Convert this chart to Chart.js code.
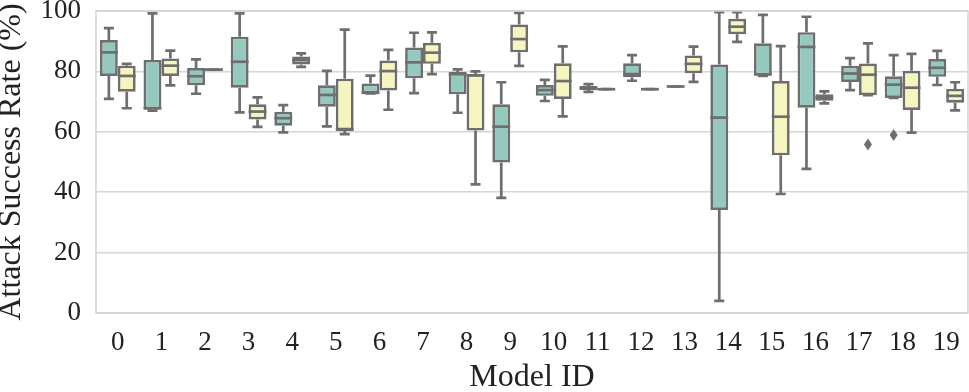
<!DOCTYPE html>
<html>
<head>
<meta charset="utf-8">
<script src="https://cdn.jsdelivr.net/npm/chart.js@4.4.0/dist/chart.umd.min.js"></script>
<style>
  html, body { margin: 0; padding: 0; background: #fff; }
  #wrap { width: 969px; height: 392px; }
</style>
</head>
<body>
<div id="wrap"><canvas id="boxChart"></canvas></div>
<script>
// model ids on the x axis
const modelIds = ['0','1','2','3','4','5','6','7','8','9','10','11','12','13','14','15','16','17','18','19'];

// teal boxes (first group)
const tealMin = [70.9, 67.0, 72.6, 66.4, 59.8, 61.8, 72.7, 72.8, 66.3, 38.1, 70.2, 73.2, 76.9, 75.0, 4.0, 78.5, 47.7, 73.8, 71.2, 75.5];
const tealQ1  = [78.5, 67.4, 75.4, 74.6, 62.0, 68.3, 72.7, 77.7, 72.4, 49.8, 71.9, 73.8, 78.1, 75.0, 34.1, 78.7, 68.0, 76.5, 71.2, 78.2];
const tealMed = [86.3, 67.8, 78.4, 83.2, 64.5, 72.2, 72.9, 83.0, 79.1, 61.7, 73.8, 74.5, 79.1, 75.0, 64.7, 79.0, 88.1, 79.3, 75.6, 81.2];
const tealQ3  = [90.4, 83.8, 81.1, 91.5, 66.6, 75.4, 76.0, 87.9, 79.8, 69.1, 75.5, 75.2, 82.7, 75.0, 82.3, 89.3, 93.0, 81.9, 78.4, 84.1];
const tealMax = [94.3, 99.2, 84.0, 99.2, 68.8, 80.2, 78.6, 92.8, 80.7, 76.4, 77.2, 75.8, 85.4, 75.0, 99.6, 98.7, 98.1, 84.4, 85.4, 86.8];

// yellow boxes (second group)
const yellowMin = [67.8, 75.4, 80.6, 61.6, 81.5, 59.2, 67.3, 79.1, 42.6, 81.8, 65.1, 74.1, 74.1, 76.5, 89.8, 39.4, 69.4, 72.1, 59.7, 67.1];
const yellowQ1  = [73.3, 78.5, 80.6, 64.1, 82.3, 60.3, 73.7, 82.5, 60.4, 86.3, 70.9, 74.1, 74.1, 79.4, 92.3, 52.2, 70.3, 72.1, 67.2, 69.6];
const yellowMed = [78.5, 81.9, 80.6, 66.7, 83.7, 60.9, 80.1, 86.2, 78.7, 90.7, 76.8, 74.1, 74.1, 82.5, 94.8, 65.0, 71.4, 78.9, 74.6, 71.9];
const yellowQ3  = [81.9, 84.3, 80.6, 69.1, 84.9, 77.6, 83.6, 89.5, 79.1, 95.5, 82.7, 74.1, 74.1, 85.3, 97.4, 76.8, 72.4, 82.6, 80.2, 74.2];
const yellowMax = [82.5, 86.9, 80.6, 71.4, 86.0, 93.8, 87.1, 92.9, 80.0, 99.4, 88.3, 74.1, 74.1, 88.2, 99.6, 88.4, 73.4, 89.3, 85.8, 76.4];

// outliers: [model index, value]
const tealOutliers = [[18, 58.9]];
const yellowOutliers = [[17, 55.8]];

const yTicks = [0, 20, 40, 60, 80, 100];

const lineGray = '#6e6e6e';
const stats = [
    { min: tealMin, med: tealMed, max: tealMax, out: tealOutliers },
    { min: yellowMin, med: yellowMed, max: yellowMax, out: yellowOutliers }
];

// whiskers behind the boxes, medians and fliers on top
const boxPlugin = {
    id: 'boxParts',
    beforeDatasetsDraw(chart) {
        const ctx = chart.ctx;
        const y = chart.scales.y;
        ctx.save();
        ctx.strokeStyle = lineGray;
        ctx.lineWidth = 2.7;
        chart.data.datasets.forEach((ds, di) => {
            const meta = chart.getDatasetMeta(di);
            meta.data.forEach((bar, i) => {
                const s = stats[di];
                const lo = ds.data[i][0], hi = ds.data[i][1];
                const cap = bar.width * 0.28;
                ctx.beginPath();
                ctx.moveTo(bar.x, y.getPixelForValue(hi));
                ctx.lineTo(bar.x, y.getPixelForValue(s.max[i]));
                ctx.moveTo(bar.x - cap, y.getPixelForValue(s.max[i]));
                ctx.lineTo(bar.x + cap, y.getPixelForValue(s.max[i]));
                ctx.moveTo(bar.x, y.getPixelForValue(lo));
                ctx.lineTo(bar.x, y.getPixelForValue(s.min[i]));
                ctx.moveTo(bar.x - cap, y.getPixelForValue(s.min[i]));
                ctx.lineTo(bar.x + cap, y.getPixelForValue(s.min[i]));
                ctx.stroke();
            });
        });
        ctx.restore();
    },
    afterDatasetsDraw(chart) {
        const ctx = chart.ctx;
        const y = chart.scales.y;
        const area = chart.chartArea;
        ctx.save();
        ctx.strokeStyle = lineGray;
        ctx.fillStyle = lineGray;
        ctx.lineWidth = 2.7;
        chart.data.datasets.forEach((ds, di) => {
            const meta = chart.getDatasetMeta(di);
            const s = stats[di];
            meta.data.forEach((bar, i) => {
                const half = bar.width / 2;
                const py = y.getPixelForValue(s.med[i]);
                ctx.beginPath();
                ctx.moveTo(bar.x - half, py);
                ctx.lineTo(bar.x + half, py);
                ctx.stroke();
            });
            s.out.forEach(([i, v]) => {
                const bar = meta.data[i];
                const py = y.getPixelForValue(v);
                ctx.beginPath();
                ctx.moveTo(bar.x, py - 6);
                ctx.lineTo(bar.x + 4, py);
                ctx.lineTo(bar.x, py + 6);
                ctx.lineTo(bar.x - 4, py);
                ctx.closePath();
                ctx.fill();
            });
        });
        // frame round the plot
        ctx.strokeStyle = '#d3d3d3';
        ctx.lineWidth = 1.5;
        ctx.strokeRect(area.left, area.top, area.right - area.left, area.bottom - area.top);
        ctx.restore();
    }
};

new Chart(document.getElementById('boxChart'), {
    type: 'bar',
    data: {
        labels: modelIds,
        datasets: [{
            label: 'teal',
            data: modelIds.map((m, i) => [tealQ1[i], tealQ3[i]]),
            backgroundColor: '#95c9bf',
            borderColor: lineGray,
            borderWidth: 2.7,
            borderSkipped: false
        }, {
            label: 'yellow',
            data: modelIds.map((m, i) => [yellowQ1[i], yellowQ3[i]]),
            backgroundColor: '#f6f5bf',
            borderColor: lineGray,
            borderWidth: 2.7,
            borderSkipped: false
        }]
    },
    options: {
        responsive: true,
        maintainAspectRatio: false,
        animation: false,
        layout: { padding: { top: 11, right: 1, left: 0, bottom: 0 } },
        datasets: { bar: { categoryPercentage: 0.82, barPercentage: 1.0 } },
        plugins: {
            legend: { display: false },
            tooltip: { enabled: false }
        },
        scales: {
            x: {
                grid: { display: false, drawTicks: false },
                border: { display: false },
                ticks: {
                    color: '#222',
                    padding: 14,
                    maxRotation: 0,
                    autoSkip: false,
                    font: { family: 'Liberation Serif', size: 27 }
                },
                title: {
                    display: true,
                    text: 'Model ID',
                    color: '#222',
                    padding: { top: 0, bottom: 2 },
                    font: { family: 'Liberation Serif', size: 32, lineHeight: 0.75 }
                },
                afterFit(scale) {
                    scale.height = 79;
                    scale.paddingLeft = 0;
                    scale.paddingRight = 0;
                }
            },
            y: {
                min: 0,
                max: 100,
                afterBuildTicks(scale) {
                    scale.ticks = yTicks.map(v => ({ value: v }));
                },
                grid: { color: '#d6d6d6', lineWidth: 1.5, drawTicks: false },
                border: { display: false },
                ticks: {
                    color: '#222',
                    padding: 15,
                    font: { family: 'Liberation Serif', size: 27 }
                },
                title: {
                    display: true,
                    text: 'Attack Success Rate (%)',
                    color: '#222',
                    padding: { top: 0, bottom: 0 },
                    font: { family: 'Liberation Serif', size: 32, lineHeight: 0.75 }
                },
                afterFit(scale) {
                    scale.width = 96;
                    scale.paddingTop = 0;
                    scale.paddingBottom = 0;
                }
            }
        }
    },
    plugins: [boxPlugin]
});
</script>
</body>
</html>
